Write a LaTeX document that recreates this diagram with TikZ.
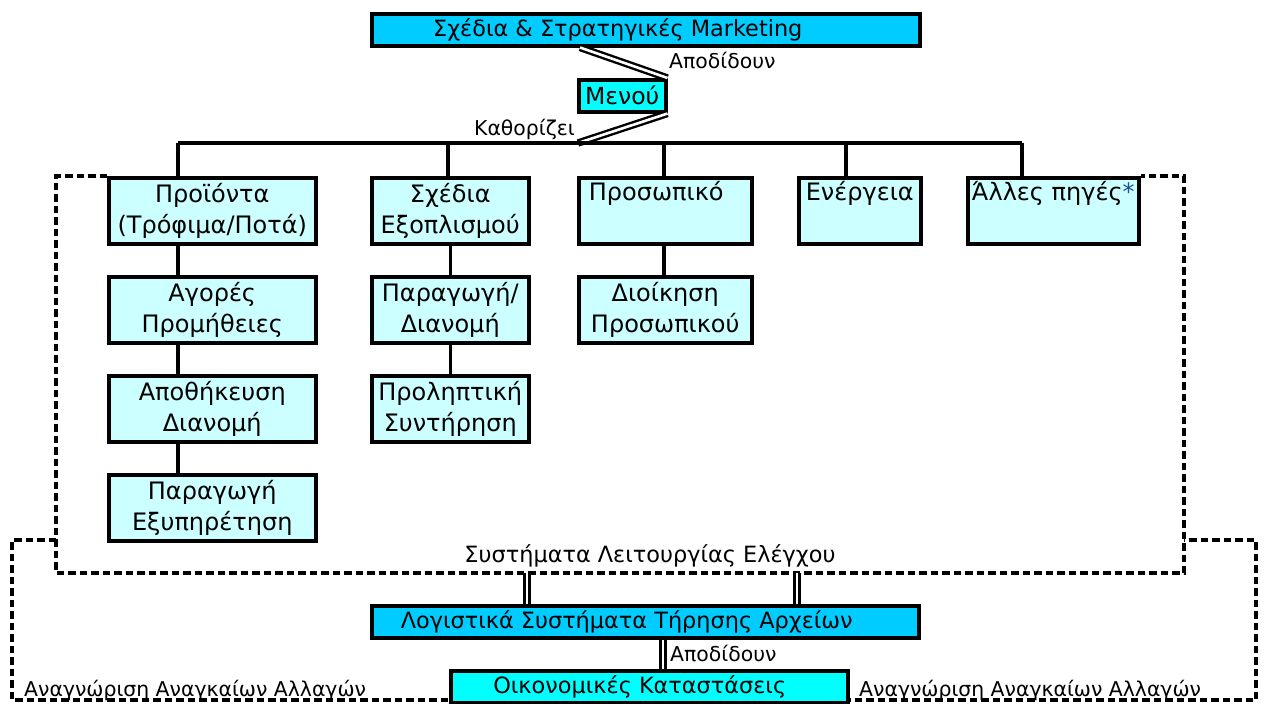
\documentclass[tikz,border=0pt]{standalone}
\usepackage{fontspec}
\setmainfont{DejaVu Sans}
\usetikzlibrary{calc}
\definecolor{skyb}{HTML}{00CCFF}
\definecolor{cyanb}{HTML}{00FFFF}
\definecolor{lightb}{HTML}{CCFFFF}
\definecolor{astb}{HTML}{1F4E99}
\pgfdeclarelayer{bg}
\pgfsetlayers{bg,main}
\begin{document}
\begin{tikzpicture}[x=1pt,y=-1pt,
  box/.style={draw=black, line width=3.5pt, fill=lightb, inner sep=0pt, anchor=north west,
    align=center, font=\fontsize{24}{31}\selectfont},
  bigbox/.style={box, fill=skyb, font=\fontsize{22.4}{26}\selectfont},
  lbl/.style={inner sep=0pt, font=\fontsize{20.4}{24}\selectfont},
  tree/.style={draw=black, line width=3.4pt},
  dbl/.style={draw=black, double=white, double distance=2.6pt, line width=2.4pt},
  dsh/.style={draw=black, line width=3.1pt, dash pattern=on 7.5pt off 4pt}
]
\useasboundingbox (0,0) rectangle (1264,704);
% top
\node[bigbox, minimum width=548pt, minimum height=32pt] (top) at (370,12) {Σχέδια \& Στρατηγικές Marketing\hspace*{56pt}};
\node[bigbox, fill=cyanb, minimum width=87pt, minimum height=32pt, font=\fontsize{23.5}{26}\selectfont] (menu) at (577,78) {Μενού};
% row 1
\node[box, minimum width=207pt, minimum height=66pt] (p1) at (107,176) {Προϊόντα\\(Τρόφιμα/Ποτά)};
\node[box, minimum width=157pt, minimum height=66pt] (p2) at (370,176) {Σχέδια\\Εξοπλισμού};
\node[box, minimum width=173pt, minimum height=66pt] (p3) at (577,176) {Προσωπικό\hspace*{18pt}\\\strut};
\node[box, minimum width=122pt, minimum height=66pt] (p4) at (797,176) {Ενέργεια\\\strut};
\node[box, minimum width=171pt, minimum height=66pt] (p5) at (966,176) {Άλλες πηγές{\color{astb}*}\\\strut};
% column 1
\node[box, minimum width=207pt, minimum height=66pt] (a2) at (107,275) {Αγορές\\Προμήθειες};
\node[box, minimum width=207pt, minimum height=66pt] (a3) at (107,374) {Αποθήκευση\\Διανομή};
\node[box, minimum width=207pt, minimum height=66pt] (a4) at (107,473) {Παραγωγή\\Εξυπηρέτηση};
% column 2
\node[box, minimum width=157pt, minimum height=66pt] (b2) at (370,275) {Παραγωγή/\\Διανομή};
\node[box, minimum width=157pt, minimum height=66pt] (b3) at (370,374) {Προληπτική\\Συντήρηση};
% column 3
\node[box, minimum width=173pt, minimum height=66pt] (c2) at (577,275) {Διοίκηση\\Προσωπικού};
% bottom
\node[bigbox, minimum width=547pt, minimum height=32pt] (log) at (370,604) {Λογιστικά Συστήματα Τήρησης Αρχείων\hspace*{37pt}};
\node[bigbox, fill=cyanb, minimum width=397pt, minimum height=32pt] (fin) at (449,669) {Οικονομικές Καταστάσεις\hspace*{19pt}};
% labels
\node[lbl, anchor=base west] (l1) at (669,68) {Αποδίδουν};
\node[lbl, anchor=base east] (l2) at (575,135) {Καθορίζει};
\node[lbl, anchor=base, font=\fontsize{22.4}{26}\selectfont] (sys) at (650,562) {Συστήματα Λειτουργίας Ελέγχου};
\node[lbl, anchor=base west] (l3) at (670,661) {Αποδίδουν};
\node[lbl, anchor=base west] (l4) at (24,696) {Αναγνώριση Αναγκαίων Αλλαγών};
\node[lbl, anchor=base west] (l5) at (859,696) {Αναγνώριση Αναγκαίων Αλλαγών};
% coordinates
\coordinate (t1) at ([xshift=210pt]top.south west);
\coordinate (bus1) at (178,143);
\coordinate (bus2) at (448,143);
\coordinate (bus3) at (664,143);
\coordinate (bus4) at (846,143);
\coordinate (bus5) at (1022,143);
\coordinate (busm) at (578,143);
% double connectors
\draw[dbl] (t1) -- (menu.north east);
\draw[dbl] (menu.south east) -- (busm);
% tree
\draw[tree] (bus1) -- (bus5);
\draw[tree] (bus1) -- (bus1 |- p1.north);
\draw[tree] (bus2) -- (bus2 |- p2.north);
\draw[tree] (bus3) -- (bus3 |- p3.north);
\draw[tree] (bus4) -- (bus4 |- p4.north);
\draw[tree] (bus5) -- (bus5 |- p5.north);
\draw[tree] (bus1 |- p1.south) -- (bus1 |- a2.north);
\draw[tree] (bus1 |- a2.south) -- (bus1 |- a3.north);
\draw[tree] (bus1 |- a3.south) -- (bus1 |- a4.north);
\draw[tree] (p2.south) -- (b2.north);
\draw[tree] (b2.south) -- (b3.north);
\draw[tree] (bus3 |- p3.south) -- (bus3 |- c2.north);
% frames
\coordinate (ib) at (0,573);
\coordinate (s1) at ([xshift=157pt]log.north west);
\coordinate (s2) at ([xshift=427pt]log.north west);
\coordinate (s3) at ([xshift=293pt]log.south west);
\draw[dbl] (s1) -- (s1 |- ib);
\draw[dbl] (s2) -- (s2 |- ib);
\draw[dbl] (s3) -- (s3 |- fin.north);
\begin{pgfonlayer}{bg}
\coordinate (fa) at (56,176);
\coordinate (fb) at (56,573);
\coordinate (fc) at (1184,573);
\coordinate (fd) at (1184,176);
\draw[dsh] (p1.north west) -- (fa) -- (fb) -- (fc) -- (fd) -- (p5.north east);
\coordinate (ga) at (56,540);
\coordinate (gb) at (12,540);
\coordinate (gc) at (12,700);
\coordinate (gd) at (1256,700);
\coordinate (ge) at (1256,540);
\coordinate (gf) at (1184,540);
\draw[dsh] (ga) -- (gb) -- (gc) -- (gd) -- (ge) -- (gf);
\end{pgfonlayer}
\end{tikzpicture}
\end{document}
